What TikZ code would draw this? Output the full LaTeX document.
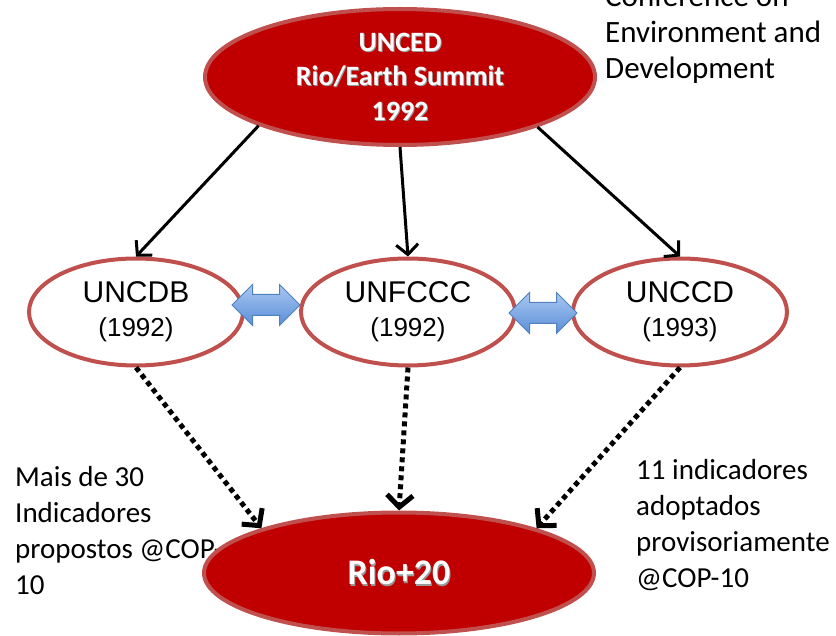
\documentclass[tikz,border=0pt]{standalone}
\usepackage{fontspec}
\setmainfont{Carlito}
\newfontfamily\arialfont{Liberation Sans}
\usetikzlibrary{positioning,arrows.meta,shapes.geometric,shapes.arrows}

\definecolor{rioRed}{HTML}{C00000}
\definecolor{rimRed}{HTML}{C0504D}
\definecolor{linkBlue}{HTML}{4F81BD}
\definecolor{linkTop}{HTML}{A9C8F2}
\definecolor{linkBottom}{HTML}{5A8ED8}

% white bold text with a soft drop shadow
\newcommand{\shadowed}[1]{\makebox[0pt][l]{\hspace{1pt}\raisebox{-1.2pt}{\textcolor{black!40}{#1}}}#1}

\begin{document}
\begin{tikzpicture}[x=1pt,y=-1pt,
    summit/.style={ellipse,fill=rioRed,draw=rimRed,line width=4pt,inner sep=0pt,
      minimum width=390pt,text=white,align=center},
    treaty/.style={ellipse,fill=white,draw=rimRed,line width=4pt,inner sep=0pt,
      minimum width=214pt,minimum height=107pt,align=center,
      font=\arialfont\fontsize{30}{34}\selectfont},
    link/.style={double arrow,double arrow head extend=10pt,inner xsep=0pt,
      inner ysep=10pt,minimum height=68pt,minimum width=40pt,draw=linkBlue,
      line width=1pt,top color=linkTop,bottom color=linkBottom},
    note/.style={align=left,inner sep=0pt,anchor=north west,
      font=\fontsize{29}{36}\selectfont},
    branch/.style={-{Straight Barb[length=10pt,width=22pt]},line width=3pt},
    feed/.style={-{Straight Barb[length=12pt,width=26pt]},line width=5pt,
      dash pattern=on 5pt off 4pt}]
  \useasboundingbox (0,0) rectangle (836,636);

  % side notes (the bottom ellipse hides part of the left one)
  \node[note,font=\fontsize{31}{36}\selectfont] (uncedNote) at (605,-15)
    {Conference on\\Environment and\\Development};
  \node[note] (cbdNote) at (15,466) {Mais de 30\\Indicadores\\propostos @COP-\\10};
  \node[note] (ccdNote) at (636,459)
    {11 indicadores\\adoptados\\provisoriamente\\@COP-10};

  % summits
  \node[summit,minimum height=136pt,font=\bfseries\fontsize{28}{34.5}\selectfont]
    (unced) at (400,77) {\shadowed{UNCED}\\\shadowed{Rio/Earth Summit}\\\shadowed{1992}};
  \node[summit,minimum height=121pt,font=\bfseries\fontsize{36}{43}\selectfont]
    (rio) at (399,573) {\raisebox{-4pt}{\shadowed{Rio+20}}};

  % conventions
  \node[treaty] (uncdb) at (136,312) {UNCDB\\{\fontsize{26}{34}\selectfont (1992)}};
  \node[treaty] (unfccc) at (408,312) {UNFCCC\\{\fontsize{26}{34}\selectfont (1992)}};
  \node[treaty] (unccd) at (680,312) {UNCCD\\{\fontsize{26}{34}\selectfont (1993)}};

  \node[link] (linkA) at (266,305) {};
  \node[link] (linkB) at (543,313) {};

  \draw[branch] (unced.199) -- (uncdb.north);
  \draw[branch] (unced.270) -- (unfccc.north);
  \draw[branch] (unced.340) -- (unccd.north);

  \draw[feed] (uncdb.south) -- (rio.162);
  \draw[feed] (unfccc.south) -- (rio.north);
  \draw[feed] (unccd.south) -- (rio.18);
\end{tikzpicture}
\end{document}
